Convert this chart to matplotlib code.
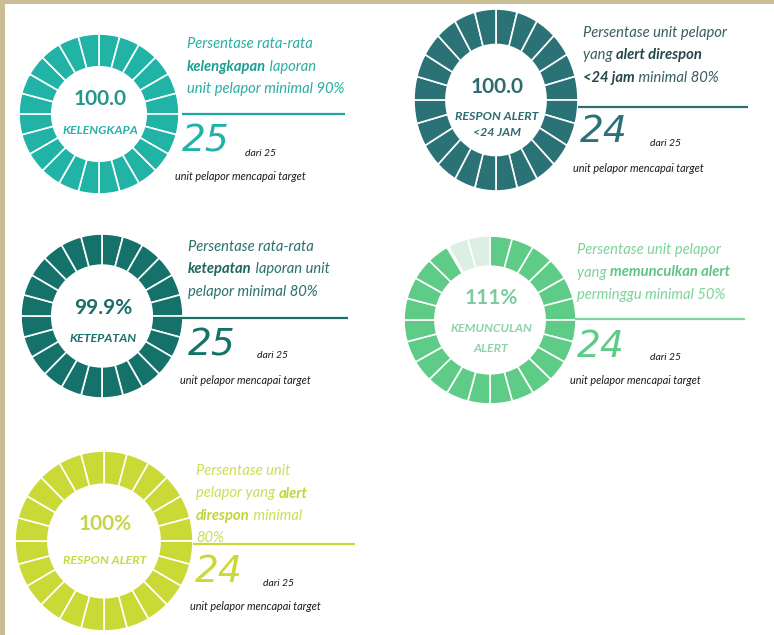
import matplotlib
matplotlib.use("Agg")
import matplotlib.pyplot as plt
from matplotlib.patches import Rectangle

W, H = 774, 635
FONT = ["Lato", "DejaVu Sans"]
BIGFONT = ["DejaVu Sans"]

# ---------------- data ----------------
value_labels = ["100.0", "100.0", "99.9%", "111%", "100%"]
name_labels = ["KELENGKAPA", "RESPON ALERT\n<24 JAM", "KETEPATAN", "KEMUNCULAN\nALERT", "RESPON ALERT"]
fill_fraction = [1.0, 1.0, 1.0, 0.92, 1.0]
achieved = [25, 24, 25, 24, 24]
total = [25, 25, 25, 25, 25]
n_segments = 24
desc_lines = [
    [[("Persentase rata-rata", False)],
     [("kelengkapan", True), (" laporan", False)],
     [("unit pelapor minimal 90%", False)]],
    [[("Persentase unit pelapor", False)],
     [("yang ", False), ("alert direspon", True)],
     [("<24 jam", True), (" minimal 80%", False)]],
    [[("Persentase rata-rata", False)],
     [("ketepatan", True), (" laporan unit", False)],
     [("pelapor minimal 80%", False)]],
    [[("Persentase unit pelapor", False)],
     [("yang ", False), ("memunculkan alert", True)],
     [("perminggu minimal 50%", False)]],
    [[("Persentase unit", False)],
     [("pelapor yang ", False), ("alert", True)],
     [("direspon", True), (" minimal", False)],
     [("80%", False)]],
]
footer_text = "unit pelapor mencapai target"

# ---------------- layout / style ----------------
# donut: center x, center y, radius x, radius y, inner ratio
donut_geom = [(99, 114, 80, 80, 0.59), (496, 100, 82, 91, 0.61), (102, 316, 81, 82, 0.62),
              (490, 320, 86, 84, 0.64), (104, 541, 89, 90, 0.63)]
ring_color = ["#21b3a6", "#2b7277", "#14726a", "#5ecb86", "#cad935"]
empty_color = ["#d6efec", "#d3e3e4", "#d0e6e3", "#dbefe2", "#f0f4cf"]
value_color = ["#23968e", "#2d6b70", "#1b6f69", "#7ecba0", "#c5d64a"]
name_color = ["#2ab0a5", "#2d6b70", "#1b6f69", "#8dd3a9", "#c9da3e"]
desc_color = ["#2aaea2", "#3a5d60", "#2a716b", "#7dd39a", "#cfdd52"]
desc_bold_color = ["#1f9e93", "#24474a", "#1b6660", "#5fc487", "#c2d43a"]
line_color = ["#1fa89c", "#2b6f73", "#1b6f69", "#7fd39c", "#c8da3a"]
value_y = [99, 87, 308, 298, 524]
name_y = [[130], [117, 133], [339], [328, 348], [561]]
desc_x = [187, 583, 188, 577, 196]
desc_y0 = [44, 33, 247, 250, 471]
desc_dy = 22.5
hline = [(182, 345, 114), (578, 748, 107), (180, 348, 318), (575, 745, 319), (193, 355, 544)]
big_xy = [(182, 142), (580, 132), (188, 346), (577, 347), (195, 572)]
dari_xy = [(245, 154), (650, 143), (257, 356), (650, 357), (263, 583)]
foot_xy = [(175, 177), (573, 168), (180, 381), (570, 381), (190, 607)]

fig = plt.figure(figsize=(W / 100, H / 100), dpi=100)
fig.patch.set_facecolor("white")

bg = fig.add_axes([0, 0, 1, 1])
bg.set_xlim(0, W)
bg.set_ylim(H, 0)
bg.axis("off")
tan = "#c8bd95"
bg.add_patch(Rectangle((0, 0), W, 4, color=tan, lw=0))
bg.add_patch(Rectangle((0, 0), 5, H, color=tan, lw=0))

# donuts
for i, (cx, cy, rx, ry, ratio) in enumerate(donut_geom):
    dax = fig.add_axes([(cx - rx) / W, 1 - (cy + ry) / H, 2 * rx / W, 2 * ry / H])
    filled = fill_fraction[i] * n_segments
    sizes, colors = [], []
    for s in range(n_segments):
        part = min(max(filled - s, 0), 1)
        if part >= 1:
            sizes.append(1); colors.append(ring_color[i])
        elif part <= 0:
            sizes.append(1); colors.append(empty_color[i])
        else:
            sizes += [part, 1 - part]; colors += [ring_color[i], empty_color[i]]
    dax.pie(sizes, colors=colors, startangle=90, counterclock=False, radius=1,
            wedgeprops=dict(width=1 - ratio, edgecolor="white", linewidth=1.2))
    dax.set_aspect("auto")
    dax.set_xlim(-1, 1)
    dax.set_ylim(-1, 1)
    dax.axis("off")

ax = fig.add_axes([0, 0, 1, 1])
ax.set_xlim(0, W)
ax.set_ylim(H, 0)
ax.axis("off")
ax.patch.set_alpha(0)
renderer = fig.canvas.get_renderer()

for i, (cx, cy, rx, ry, ratio) in enumerate(donut_geom):
    ax.text(cx + 1, value_y[i], value_labels[i], ha="center", va="center", fontsize=15,
            fontweight="bold", color=value_color[i], family=FONT)
    for ln, yy in zip(name_labels[i].split("\n"), name_y[i]):
        ax.text(cx + 1, yy, ln, ha="center", va="center", fontsize=8.9, style="italic",
                fontweight="bold", color=name_color[i], family=FONT)
    # description
    for k, runs in enumerate(desc_lines[i]):
        x = desc_x[i]
        y = desc_y0[i] + k * desc_dy
        for txt, bold in runs:
            t = ax.text(x, y, txt, ha="left", va="center", fontsize=10.6, style="italic",
                        fontweight="bold" if bold else "normal",
                        color=desc_bold_color[i] if bold else desc_color[i], family=FONT)
            x = t.get_window_extent(renderer).x1
    x0, x1, yl = hline[i]
    ax.plot([x0, x1], [yl, yl], color=line_color[i], lw=1.6, solid_capstyle="butt")
    bx, by = big_xy[i]
    ax.text(bx, by, str(achieved[i]), ha="left", va="center", fontsize=27, style="italic",
            fontweight="normal", color=ring_color[i], family=BIGFONT)
    dx, dy = dari_xy[i]
    ax.text(dx, dy, f"dari {total[i]}", ha="left", va="center", fontsize=7.5,
            style="italic", color="#1a1a1a", family=FONT)
    fx, fy = foot_xy[i]
    ax.text(fx, fy, footer_text, ha="left", va="center", fontsize=7.8,
            style="italic", color="#1a1a1a", family=FONT)

fig.savefig("out.png", dpi=100)
